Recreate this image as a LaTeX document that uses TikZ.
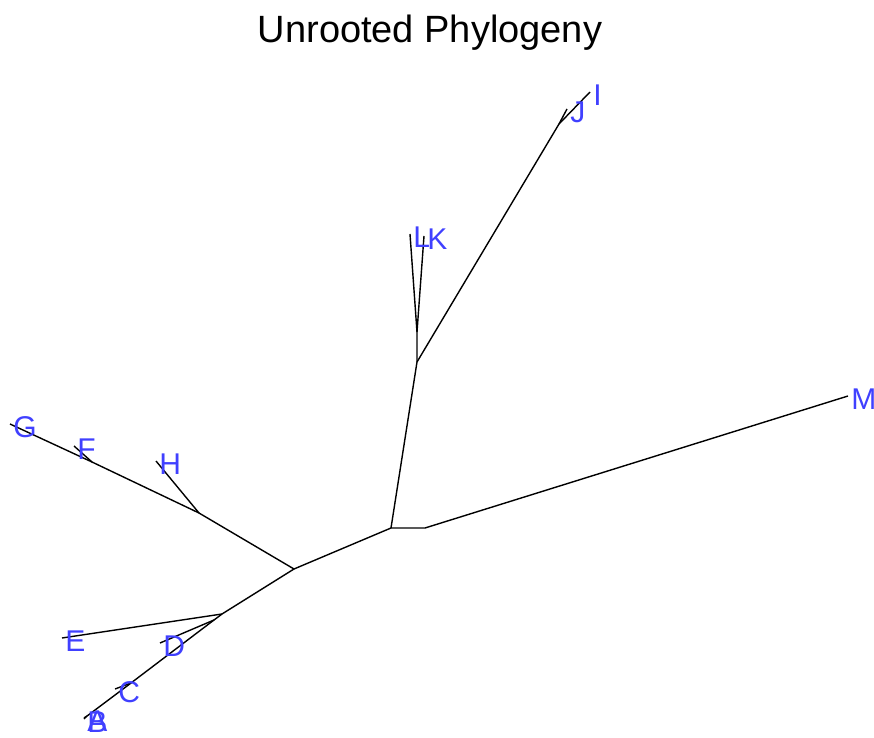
\documentclass[tikz,border=0pt]{standalone}
\usepackage{fontspec}
\setmainfont{Liberation Sans}
\definecolor{TipBlue}{HTML}{4040FF}

\begin{document}
\begin{tikzpicture}[x=0.5pt,y=-0.5pt,line cap=butt,line join=miter,
    edge/.style={black,line width=0.7pt},
    tiplab/.style={anchor=west,text=TipBlue,inner sep=1.5pt,yshift=-1.5pt,
        font=\fontsize{15}{15}\selectfont}]

% Frame (pixel units, y down)
\useasboundingbox (0,0) rectangle (874,738);

% ---- INTERNAL NODES ----
\coordinate (Centre) at (391,528);
\coordinate (Kink)   at (425,528);
\coordinate (UpNode) at (417,362);
\coordinate (LKNode) at (417,332);
\coordinate (IJNode) at (559,124);
\coordinate (LowNode) at (294,569);
\coordinate (GHNode) at (199,513);
\coordinate (FGNode) at (92,462);
\coordinate (ENode)  at (222,614);
\coordinate (DNode)  at (214,620);
\coordinate (CNode)  at (131,683);
\coordinate (ABNode) at (87,716);

% ---- TIPS ----
\coordinate (tipM) at (848,396);
\coordinate (tipI) at (590,92);
\coordinate (tipJ) at (567,109);
\coordinate (tipL) at (410,234);
\coordinate (tipK) at (424,236);
\coordinate (tipH) at (156,461);
\coordinate (tipF) at (74,446);
\coordinate (tipG) at (10,424);
\coordinate (tipE) at (62,638);
\coordinate (tipD) at (160,643);
\coordinate (tipC) at (115,689);
\coordinate (tipA) at (84,718);
\coordinate (tipB) at (84,719);

% ---- EDGES ----
\draw[edge] (Centre) -- (Kink) -- (tipM);
\draw[edge] (Centre) -- (UpNode) -- (LKNode);
\draw[edge] (LKNode) -- (tipL);
\draw[edge] (LKNode) -- (tipK);
\draw[edge] (UpNode) -- (IJNode) -- (tipI);
\draw[edge] (IJNode) -- (tipJ);
\draw[edge] (Centre) -- (LowNode) -- (GHNode) -- (FGNode) -- (tipG);
\draw[edge] (GHNode) -- (tipH);
\draw[edge] (FGNode) -- (tipF);
\draw[edge] (LowNode) -- (ENode) -- (tipE);
\draw[edge] (ENode) -- (DNode) -- (tipD);
\draw[edge] (DNode) -- (CNode) -- (ABNode);
\draw[edge] (CNode) -- (tipC);
\draw[edge] (ABNode) -- (tipA);
\draw[edge] (ABNode) -- (tipB);

% ---- TIP LABELS ----
\node[tiplab] (labM) at (tipM) {M};
\node[tiplab] (labI) at (tipI) {I};
\node[tiplab] (labJ) at (tipJ) {J};
\node[tiplab] (labL) at (tipL) {L};
\node[tiplab] (labK) at (tipK) {K};
\node[tiplab] (labH) at (tipH) {H};
\node[tiplab] (labF) at (tipF) {F};
\node[tiplab] (labG) at (tipG) {G};
\node[tiplab] (labE) at (tipE) {E};
\node[tiplab] (labD) at (tipD) {D};
\node[tiplab] (labC) at (tipC) {C};
\node[tiplab] (labA) at (tipA) {A};
\node[tiplab] (labB) at (tipB) {B};

% Title
\node[font=\fontsize{19}{19}\selectfont] (title) at (430,33) {Unrooted Phylogeny};

\end{tikzpicture}
\end{document}
